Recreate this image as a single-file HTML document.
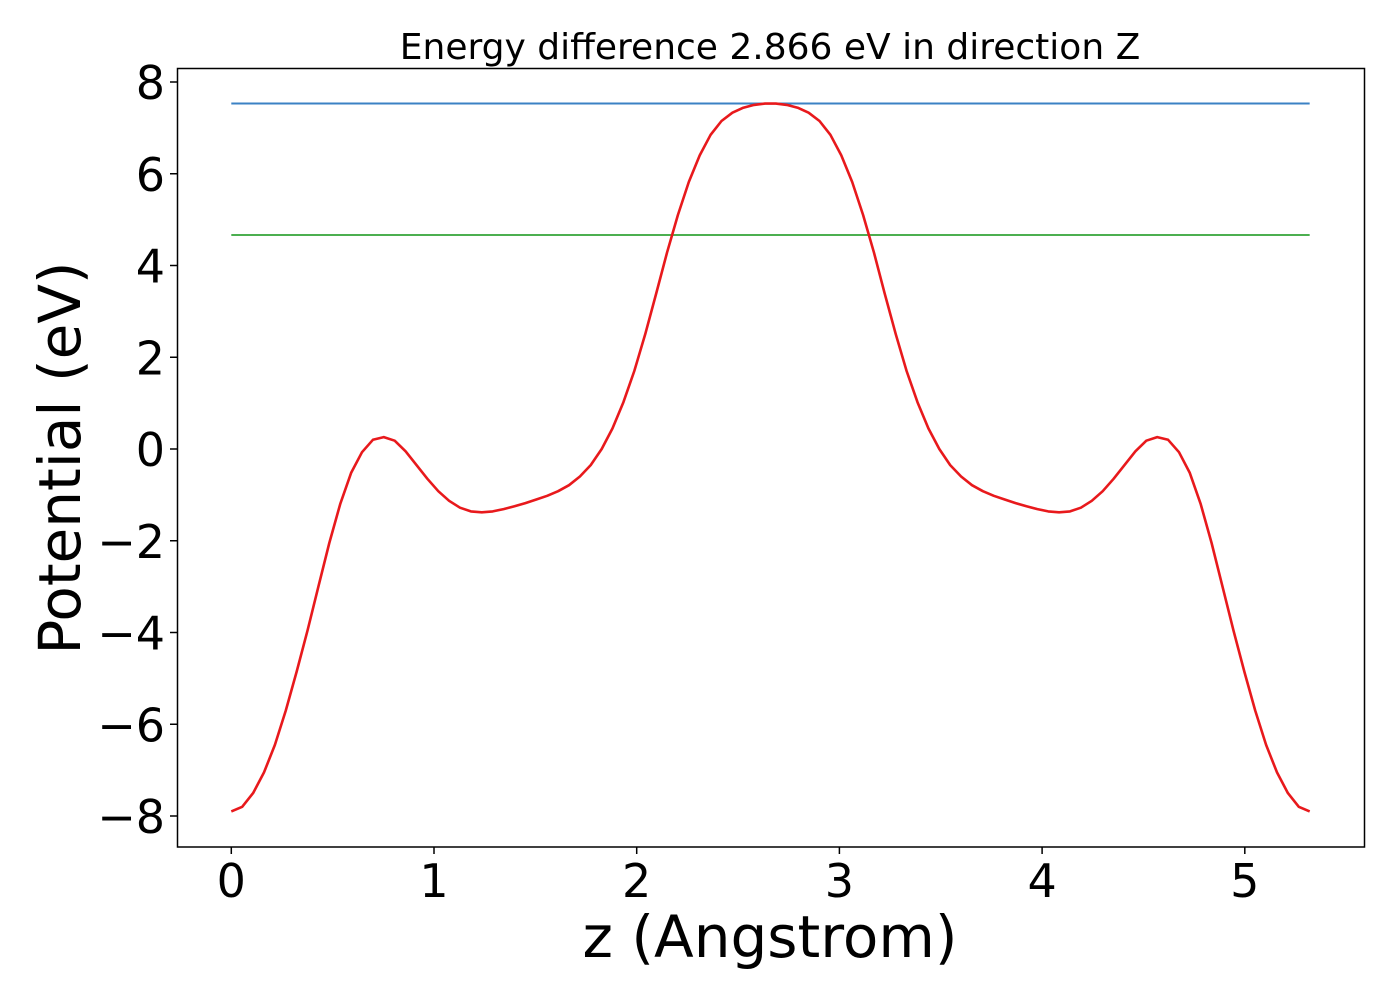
<!DOCTYPE html>
<html><head><meta charset="utf-8"><style>
html,body{margin:0;padding:0;background:#fff;}
svg{display:block;font-family:"DejaVu Sans","Liberation Sans",sans-serif;}
</style></head><body>
<svg id="chart" width="1400" height="1000" viewBox="0 0 1400 1000" xmlns="http://www.w3.org/2000/svg">
<rect x="0" y="0" width="1400" height="1000" fill="#fff"/>
<text x="770" y="59" font-size="36" text-anchor="middle" fill="#000">Energy difference 2.866 eV in direction Z</text>
<g id="plot"></g>
<rect x="177.5" y="68.5" width="1187" height="778.5" fill="none" stroke="#000" stroke-width="1.5"/>
<text x="770" y="957" font-size="58" text-anchor="middle" fill="#000">z (Angstrom)</text>
<text transform="translate(80,458) rotate(-90)" font-size="58" text-anchor="middle" fill="#000">Potential (eV)</text>
</svg>
<script>
const zValues = [0,0.0537,0.1075,0.1612,0.2149,0.2687,0.3224,0.3762,0.4299,0.4836,0.5374,0.5911,0.6448,0.6986,0.7523,0.8061,0.8598,0.9135,0.9673,1.021,1.0747,1.1285,1.1822,1.236,1.2897,1.3434,1.3972,1.4509,1.5046,1.5584,1.6121,1.6659,1.7196,1.7733,1.8271,1.8808,1.9345,1.9883,2.042,2.0958,2.1495,2.2032,2.257,2.3107,2.3644,2.4182,2.4719,2.5257,2.5794,2.6331,2.6869,2.7406,2.7943,2.8481,2.9018,2.9556,3.0093,3.063,3.1168,3.1705,3.2242,3.278,3.3317,3.3855,3.4392,3.4929,3.5467,3.6004,3.6541,3.7079,3.7616,3.8154,3.8691,3.9228,3.9766,4.0303,4.084,4.1378,4.1915,4.2453,4.299,4.3527,4.4065,4.4602,4.5139,4.5677,4.6214,4.6752,4.7289,4.7826,4.8364,4.8901,4.9438,4.9976,5.0513,5.1051,5.1588,5.2125,5.2663,5.32];
const potential = [-7.9,-7.8,-7.5,-7.05,-6.45,-5.7,-4.85,-3.95,-3.0,-2.05,-1.2,-0.52,-0.07,0.2,0.26,0.18,-0.05,-0.35,-0.65,-0.92,-1.13,-1.28,-1.36,-1.38,-1.36,-1.31,-1.25,-1.18,-1.1,-1.02,-0.92,-0.79,-0.6,-0.35,0.0,0.45,1.02,1.7,2.5,3.38,4.28,5.1,5.82,6.4,6.85,7.15,7.33,7.44,7.5,7.53,7.53,7.5,7.44,7.33,7.15,6.85,6.4,5.82,5.1,4.28,3.38,2.5,1.7,1.02,0.45,0.0,-0.35,-0.6,-0.79,-0.92,-1.02,-1.1,-1.18,-1.25,-1.31,-1.36,-1.38,-1.36,-1.28,-1.13,-0.92,-0.65,-0.35,-0.05,0.18,0.26,0.2,-0.07,-0.52,-1.2,-2.05,-3.0,-3.95,-4.85,-5.7,-6.45,-7.05,-7.5,-7.8,-7.9];
const refLevels = [7.53, 4.664];
const refColors = ['#3b82c4', '#4caf50'];
const refNames = ['reference-line-upper', 'reference-line-lower'];
const xTicks = [0,1,2,3,4,5];
const yTicks = [8,6,4,2,0,-2,-4,-6,-8];

const X0 = 231.3, XS = 202.7;
const Y0 = 449, YS = 45.875;
function xs(v){ return X0 + v * XS; }
function ys(v){ return Y0 - v * YS; }
const NS = 'http://www.w3.org/2000/svg';
const g = document.getElementById('plot');
function mk(tag, attrs){ const e = document.createElementNS(NS, tag); for (const k in attrs) e.setAttribute(k, attrs[k]); return e; }

const zMin = zValues[0], zMax = zValues[zValues.length-1];
refLevels.forEach((lv, i) => {
  const l = mk('line', {x1: xs(zMin), x2: xs(zMax), y1: ys(lv), y2: ys(lv), stroke: refColors[i], 'stroke-width': 2});
  
  
  g.appendChild(l);
});

const pts = zValues.map((z, i) => xs(z).toFixed(1) + ',' + ys(potential[i]).toFixed(1)).join(' ');
const curve = mk('polyline', {points: pts, fill: 'none', stroke: '#e8191c', 'stroke-width': 2.6, 'stroke-linejoin': 'round'});


g.appendChild(curve);

xTicks.forEach(t => {
  const tk = mk('line', {x1: xs(t), x2: xs(t), y1: 847, y2: 854, stroke: '#000', 'stroke-width': 1.5});
  
  
  g.appendChild(tk);
  const tx = mk('text', {x: xs(t), y: 897, 'font-size': 46, 'text-anchor': 'middle', fill: '#000'});
  tx.textContent = String(t);
  
  
  g.appendChild(tx);
});
yTicks.forEach(t => {
  const tk = mk('line', {x1: 170, x2: 177.5, y1: ys(t), y2: ys(t), stroke: '#000', 'stroke-width': 1.5});
  
  
  g.appendChild(tk);
  const tx = mk('text', {x: 165, y: ys(t) + 17, 'font-size': 46, 'text-anchor': 'end', fill: '#000'});
  tx.textContent = t < 0 ? '\u2212' + Math.abs(t) : String(t);
  
  
  g.appendChild(tx);
});
</script>
</body></html>
